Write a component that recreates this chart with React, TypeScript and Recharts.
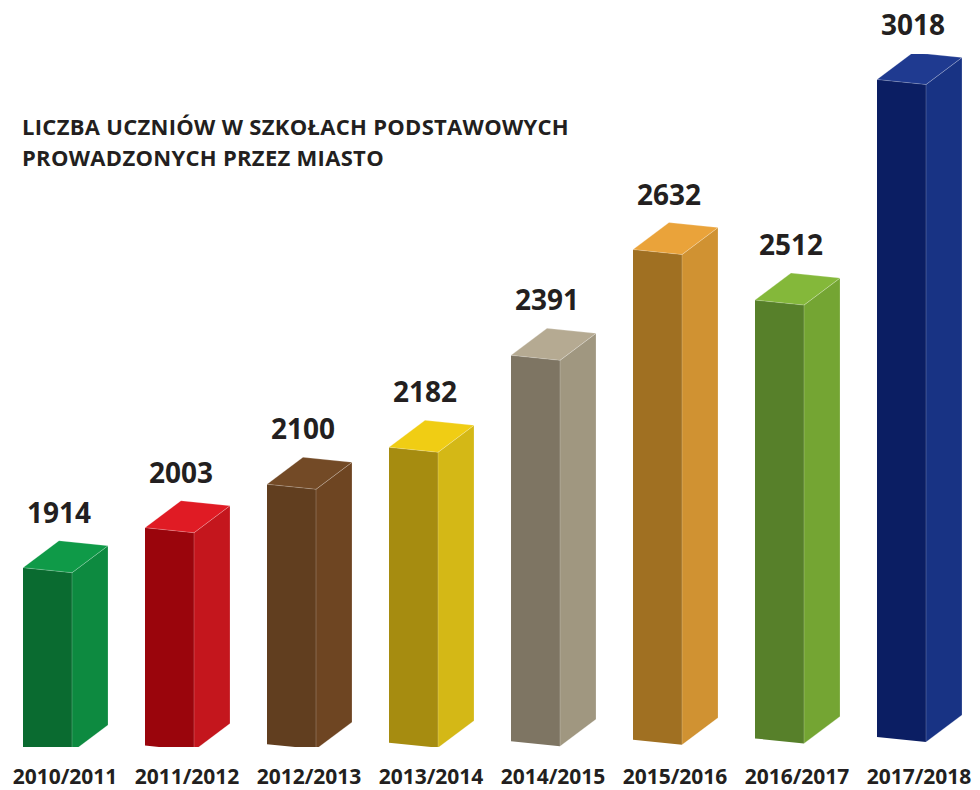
import { BarChart, Bar, XAxis, YAxis, LabelList } from 'recharts';

const categories = ['2010/2011', '2011/2012', '2012/2013', '2013/2014', '2014/2015', '2015/2016', '2016/2017', '2017/2018'];
const values = [1914, 2003, 2100, 2182, 2391, 2632, 2512, 3018];

const frontColors = ['#0a6b30', '#9a050c', '#613e1f', '#a68c10', '#7e7563', '#a07022', '#57802a', '#0b1e63'];
const sideColors = ['#0d8a40', '#c4161d', '#6e4522', '#d4b816', '#a09780', '#d09232', '#74a533', '#183384'];
const topColors = ['#0f9a48', '#e01b24', '#734a26', '#f0cd14', '#b5aa92', '#eaa33a', '#84b83a', '#1f3a90'];

const data = categories.map((name, i) => ({ name, value: values[i] }));

const TEXT = '#231f20';
const FONT = '"Open Sans", sans-serif';

// 3d box look
const FRONT_W = 49;
const DX = 36;
const DY = -27;
const SLOPE = 5;
const TILT = -1.43;

function Prism(props: any) {
  const { x, y, height, index } = props;
  const t = TILT * index;
  const xl = x;
  const xr = x + FRONT_W;
  const yt = y + t;
  const yb = y + height + t;
  const edge = 'rgba(255,255,255,0.35)';
  return (
    <g>
      <polygon points={`${xl},${yt} ${xr},${yt + SLOPE} ${xr},${yb + SLOPE} ${xl},${yb}`} fill={frontColors[index]} />
      <polygon
        points={`${xr},${yt + SLOPE} ${xr + DX},${yt + SLOPE + DY} ${xr + DX},${yb + SLOPE + DY} ${xr},${yb + SLOPE}`}
        fill={sideColors[index]}
        stroke={edge}
        strokeWidth={0.6}
      />
      <polygon
        points={`${xl},${yt} ${xl + DX},${yt + DY} ${xr + DX},${yt + SLOPE + DY} ${xr},${yt + SLOPE}`}
        fill={topColors[index]}
        stroke={edge}
        strokeWidth={0.6}
      />
    </g>
  );
}

function ValueLabel(props: any) {
  const { x, y, value, index } = props;
  const t = TILT * index;
  return (
    <text x={x + 36} y={y + t - 45} textAnchor="middle" fontFamily={FONT} fontWeight={700} fontSize={28} fill={TEXT}>
      {value}
    </text>
  );
}

function CategoryTick(props: any) {
  const { x, y, payload } = props;
  return (
    <text x={x} y={y + 29} textAnchor="middle" fontFamily={FONT} fontWeight={700} fontSize={21} fill={TEXT}>
      {payload.value}
    </text>
  );
}

export default function App() {
  return (
    <div style={{ position: 'fixed', left: 0, top: 0, width: 980, height: 790, background: '#fff' }}>
      <div
        style={{
          position: 'absolute',
          left: 22,
          top: 111,
          fontFamily: FONT,
          fontWeight: 700,
          fontSize: 22,
          letterSpacing: 0.3,
          lineHeight: '31px',
          color: TEXT,
        }}
      >
        LICZBA UCZNIÓW W SZKOŁACH PODSTAWOWYCH
        <br />
        PROWADZONYCH PRZEZ MIASTO
      </div>
      <BarChart width={980} height={790} data={data} margin={{ top: 54, right: 0, left: 4, bottom: 0 }}>
        <XAxis dataKey="name" axisLine={false} tickLine={false} height={43} tick={<CategoryTick />} interval={0} />
        <YAxis hide type="number" domain={[1500, 3100]} allowDataOverflow />
        <Bar dataKey="value" barSize={85} shape={<Prism />} isAnimationActive={false}>
          <LabelList dataKey="value" content={<ValueLabel />} />
        </Bar>
      </BarChart>
    </div>
  );
}
